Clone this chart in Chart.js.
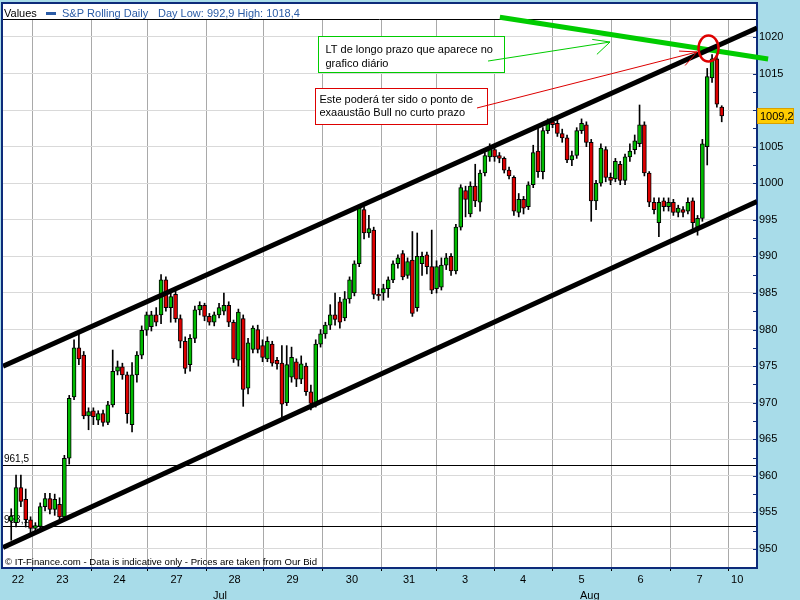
<!DOCTYPE html>
<html>
<head>
<meta charset="utf-8">
<script src="https://cdn.jsdelivr.net/npm/chart.js@4.4.0/dist/chart.umd.min.js"></script>
<style>
  html, body { margin: 0; padding: 0; background: #a8dce9; }
  #wrap { width: 800px; height: 600px; }
</style>
</head>
<body>
<div id="wrap"><canvas id="chart" width="800" height="600"></canvas></div>
<script>
// S&P rolling daily, ~2h candles. slot 0 = start of 23 Jul, one slot per candle
const firstSlot = -4.5;

const opens = [
  953.8, 953.6, 958.4, 956.8, 954.0,                                                  // 22
  952.8, 953.1, 955.8, 956.9, 955.4, 956.1, 954.4, 962.4, 970.8, 977.5, 976.5, 968.2, // 23
  968.9, 967.6, 968.5, 967.3, 969.7, 974.3, 974.9, 973.8, 967.0, 973.8, 976.5, 979.9, // 24
  980.4, 982.0, 982.0, 986.8, 983.0, 984.8, 981.5, 978.4, 975.2, 978.8, 982.7, 983.3, // 27
  981.8, 981.0, 982.0, 982.5, 983.3, 981.0, 975.8, 981.5, 972.0, 977.3, 980.0, 977.8, // 28
  976.0, 978.0, 975.8, 975.4, 970.0, 973.5, 975.6, 973.2, 975.0, 971.5, 969.9, 978.0, // 29
  979.4, 980.6, 982.0, 983.8, 981.6, 984.2, 985.0, 989.0, 996.4, 993.2, 993.6, 984.8, // 30
  985.0, 985.6, 986.8, 989.0, 990.4, 987.4, 989.5, 983.0, 989.0, 990.2, 988.6, 985.6, // 31
  985.8, 988.8, 990.0, 988.0, 994.0, 999.0, 995.8, 999.6, 997.4, 1001.4, 1003.6, 1004.6, // 3
  1003.8, 1003.4, 1001.8, 1000.8, 996.0, 997.8, 996.8, 999.8, 1004.4, 1001.6, 1007.2, 1008.4, // 4
  1008.2, 1006.8, 1006.2, 1003.2, 1003.8, 1007.2, 1008.0, 1005.6, 997.6, 1000.0, 1004.6, 1000.8, // 5
  1000.6, 1002.6, 1000.4, 1003.6, 1004.6, 1005.4, 1008.0, 1001.4, 997.4, 994.6, 997.6, 996.8, // 6
  997.4, 996.0, 996.4, 996.2, 997.6, 994.0, 995.2, 1005.0, 1014.4, 1017.0, 1010.4     // 7
];
const highs = [
  955.5, 960.1, 960.1, 958.2, 954.4,
  953.6, 956.3, 957.6, 957.6, 957.5, 957.0, 962.8, 971.0, 978.6, 979.4, 977.0, 969.3,
  969.3, 968.9, 969.0, 970.2, 977.2, 975.7, 975.4, 974.2, 975.5, 977.0, 980.5, 982.4,
  982.5, 983.0, 987.5, 987.2, 985.0, 985.3, 982.0, 979.0, 979.3, 983.2, 983.8, 983.6,
  982.2, 982.4, 983.6, 985.0, 983.8, 981.3, 982.8, 982.0, 978.8, 980.5, 980.6, 978.6,
  979.0, 978.4, 976.2, 977.8, 977.8, 977.6, 976.0, 976.4, 975.4, 972.4, 978.6, 980.0,
  981.0, 983.4, 985.0, 984.4, 985.2, 987.2, 989.4, 997.0, 996.8, 995.6, 994.0, 985.6,
  986.2, 987.2, 989.4, 990.2, 990.8, 989.8, 993.4, 993.2, 990.6, 990.6, 993.6, 989.4,
  989.8, 990.4, 990.4, 994.4, 999.8, 999.6, 1000.2, 1002.6, 1001.8, 1004.2, 1005.4, 1005.2,
  1004.2, 1003.6, 1002.2, 1001.0, 998.6, 998.2, 1000.2, 1005.2, 1007.6, 1007.6, 1008.8, 1009.0,
  1008.8, 1007.4, 1006.6, 1004.4, 1007.6, 1008.8, 1008.4, 1006.0, 1000.4, 1005.4, 1005.0, 1001.4,
  1003.4, 1003.0, 1004.0, 1005.4, 1006.6, 1010.7, 1008.4, 1001.6, 998.0, 998.0, 998.0, 998.0,
  997.8, 997.0, 996.8, 998.0, 998.0, 995.6, 1006.0, 1015.7, 1017.6, 1018.4, 1010.6
];
const lows = [
  951.2, 953.0, 955.8, 953.0, 952.2,
  952.3, 952.8, 955.2, 954.8, 954.6, 953.9, 954.2, 961.6, 970.4, 975.2, 967.8, 966.3,
  967.0, 967.0, 966.8, 967.0, 969.4, 973.8, 973.2, 967.2, 966.0, 972.8, 976.0, 979.2,
  979.8, 980.5, 980.8, 982.5, 981.0, 981.0, 977.5, 974.0, 974.3, 978.2, 982.0, 981.2,
  980.6, 980.5, 981.6, 982.0, 980.4, 975.5, 975.0, 969.5, 971.2, 976.8, 976.8, 975.6,
  975.6, 975.0, 974.6, 968.1, 969.6, 972.8, 972.2, 972.6, 971.0, 969.0, 969.4, 977.6,
  978.8, 980.0, 980.6, 980.2, 981.2, 983.6, 984.6, 988.6, 992.4, 992.6, 984.2, 984.0,
  984.0, 984.4, 986.4, 988.4, 986.8, 987.0, 981.8, 982.5, 987.4, 987.6, 984.9, 985.0,
  985.4, 988.2, 987.4, 987.6, 993.6, 995.4, 995.4, 996.8, 996.2, 1001.0, 1003.0, 1003.0,
  1002.8, 1001.4, 1000.6, 995.6, 995.4, 995.8, 996.4, 999.4, 1000.8, 1000.6, 1006.8, 1007.6,
  1006.4, 1005.6, 1002.8, 1002.4, 1003.4, 1006.8, 1005.0, 994.8, 996.4, 999.6, 1000.2, 999.8,
  1000.2, 999.8, 999.8, 1003.0, 1004.0, 1005.0, 1001.0, 996.8, 995.8, 992.7, 996.2, 996.2,
  995.6, 995.4, 995.4, 995.8, 993.8, 992.9, 994.8, 1002.5, 1013.8, 1010.4, 1008.4
];
const closes = [
  954.5, 958.4, 956.5, 954.0, 952.8,
  953.2, 955.8, 956.9, 955.4, 956.8, 954.4, 962.4, 970.6, 977.5, 976.0, 968.2, 968.8,
  968.1, 968.5, 967.3, 969.7, 974.3, 974.9, 973.8, 968.5, 973.8, 976.5, 979.9, 982.0,
  982.0, 981.0, 986.8, 983.0, 984.5, 981.5, 978.4, 974.7, 978.8, 982.7, 983.3, 981.8,
  981.0, 982.0, 983.0, 983.3, 981.0, 976.0, 982.4, 971.8, 978.2, 980.2, 977.3, 976.2,
  978.4, 975.4, 975.3, 969.8, 975.2, 976.2, 973.2, 975.3, 971.5, 969.9, 978.0, 979.4,
  980.6, 982.0, 981.4, 981.0, 984.2, 986.8, 989.0, 996.6, 993.2, 993.8, 984.8, 984.6,
  985.6, 986.8, 989.0, 989.8, 987.2, 989.3, 982.2, 990.0, 990.0, 988.6, 985.4, 988.6,
  988.8, 989.8, 988.0, 994.0, 999.4, 997.8, 999.6, 997.6, 1001.4, 1003.8, 1005.0, 1003.6,
  1003.4, 1001.8, 1001.0, 996.2, 997.8, 996.6, 999.8, 1004.2, 1001.6, 1007.2, 1008.4, 1008.0,
  1006.8, 1006.2, 1003.2, 1003.8, 1007.2, 1008.2, 1005.6, 997.6, 1000.0, 1004.8, 1000.8, 1000.4,
  1003.0, 1000.4, 1003.6, 1004.4, 1005.8, 1008.0, 1001.4, 997.4, 996.4, 997.4, 996.8, 997.4,
  996.0, 996.6, 996.0, 997.4, 994.6, 995.2, 1005.4, 1014.6, 1017.0, 1010.8, 1009.2
];

// axis
const dayStarts = [0, 12.2, 23.6, 35.8, 47.6, 59.8, 72.2, 83.4, 95.4, 107.4, 119.6, 131.8, 144];
const dayLabels = ['22', '23', '24', '27', '28', '29', '30', '31', '3', '4', '5', '6', '7', '10'];
const monthLabels = ['Jul', 'Aug'];
const monthSlots = [38.7, 115.2];
const yTicks = [950, 955, 960, 965, 970, 975, 980, 985, 990, 995, 1000, 1005, 1010, 1015, 1020];
const xMin = -6.2, xMax = 149.8;
const yMin = 947.4, yMax = 1022.32;

// header numbers and drawn lines
const dayLow = 992.9, dayHigh = 1018.4;
const levels = [961.5, 953.1];
const channelUpper = [975.0, 1021.23];
const channelLower = [950.2, 997.5];
const longTermSlots = [96.6, 152.1];
const longTermValues = [1022.7, 1017.0];

const pageBlue = '#a8dce9';
const frameBlue = '#0d2b7a';
const seriesBlue = '#2b5ca6';
const upGreen = '#00bb00';
const downRed = '#dd0000';
const FONT = '"Liberation Sans", Arial, sans-serif';

const fmt = v => v.toFixed(1).replace('.', ',');
const lastPrice = closes[closes.length - 1];

const slots = opens.map((_, i) => firstSlot + i);
const bodies = slots.map((s, i) => ({ x: s, y: [opens[i], closes[i]] }));
const wicks = slots.map((s, i) => ({ x: s, y: [lows[i], highs[i]] }));

const dayLabelSlots = dayLabels.map((_, i) => {
  if (i === 0) return (xMin + dayStarts[0]) / 2;
  if (i === dayLabels.length - 1) return dayStarts[dayStarts.length - 1] + 1.7;
  return (dayStarts[i - 1] + dayStarts[i]) / 2;
});

// call-out boxes, placed in slot / price units
const notes = [
  { x1: 59.0, x2: 97.5, top: 1020.13, bottom: 1015.21, color: '#00cc00', dx: 7, lines: ['LT de longo prazo que aparece no', 'grafico diário'], base: [16, 30],
    from: [94.15, 1016.71], to: [119.39, 1019.31] },
  { x1: 58.35, x2: 93.94, top: 1013.02, bottom: 1008.10, color: '#dd0000', dx: 4, lines: ['Este poderá ter sido o ponto de', 'exaaustão Bull no curto prazo'], base: [14.5, 27],
    from: [91.87, 1010.29], to: [137.39, 1017.95] }
];
const ringAt = [139.77, 1018.42];

function arrow(c, x1, y1, x2, y2) {
  const ang = Math.atan2(y1 - y2, x1 - x2);
  c.beginPath();
  c.moveTo(x1, y1); c.lineTo(x2, y2);
  c.moveTo(x2, y2); c.lineTo(x2 + 18 * Math.cos(ang + 0.3), y2 + 18 * Math.sin(ang + 0.3));
  c.moveTo(x2, y2); c.lineTo(x2 + 18 * Math.cos(ang - 0.6), y2 + 18 * Math.sin(ang - 0.6));
  c.stroke();
}

const decor = {
  id: 'decor',
  beforeDraw(chart) {
    const c = chart.ctx, a = chart.chartArea;
    c.save();
    c.fillStyle = pageBlue;
    c.fillRect(0, 0, chart.width, chart.height);
    c.fillStyle = '#fff';
    c.fillRect(2, 3, a.right - 2, a.bottom - 3);
    c.font = '11px ' + FONT;
    c.textBaseline = 'alphabetic';
    c.fillStyle = '#000';
    c.fillText('Values', 4, 17);
    c.fillStyle = seriesBlue;
    c.fillRect(46, 12, 10, 3);
    c.fillText('S&P Rolling Daily', 62, 17);
    c.fillText('Day Low: ' + fmt(dayLow) + ' High: ' + fmt(dayHigh), 158, 17);
    c.restore();
  },
  beforeDatasetsDraw(chart) {
    const c = chart.ctx, a = chart.chartArea, ys = chart.scales.y;
    c.save();
    c.strokeStyle = '#000';
    c.lineWidth = 1;
    c.font = '10px ' + FONT;
    c.fillStyle = '#000';
    levels.forEach(v => {
      const y = Math.round(ys.getPixelForValue(v)) + 0.5;
      c.beginPath(); c.moveTo(a.left, y); c.lineTo(a.right, y); c.stroke();
      c.fillText(fmt(v), 4, y - 3.5);
    });
    // header separator and frame
    c.beginPath(); c.moveTo(2, 19.5); c.lineTo(a.right, 19.5); c.stroke();
    c.strokeStyle = frameBlue;
    c.lineWidth = 2;
    c.strokeRect(2, 3, a.right - 2, a.bottom - 3);
    // small marks every 2.5 on the price axis
    c.lineWidth = 1;
    for (let v = 947.5; v < yMax; v += 2.5) {
      const y = Math.round(ys.getPixelForValue(v)) + 0.5;
      c.beginPath(); c.moveTo(a.right - 4, y); c.lineTo(a.right, y); c.stroke();
    }
    c.font = '9.6px ' + FONT;
    c.fillStyle = '#000';
    c.fillText('© IT-Finance.com - Data is indicative only - Prices are taken from Our Bid', 5, 565);
    c.restore();
  },
  afterDraw(chart) {
    const c = chart.ctx, xs = chart.scales.x, ys = chart.scales.y;
    c.save();
    c.font = '11px ' + FONT;
    notes.forEach(n => {
      const l = Math.round(xs.getPixelForValue(n.x1)) + 0.5, r = Math.round(xs.getPixelForValue(n.x2)) + 0.5;
      const t = Math.round(ys.getPixelForValue(n.top)) + 0.5, b = Math.round(ys.getPixelForValue(n.bottom)) + 0.5;
      c.strokeStyle = n.color;
      c.lineWidth = 1;
      c.fillStyle = '#fff';
      c.fillRect(l, t, r - l, b - t);
      c.strokeRect(l, t, r - l, b - t);
      c.fillStyle = '#000';
      n.lines.forEach((s, k) => c.fillText(s, l + n.dx, t + n.base[k]));
      // the pointer starts inside the box, after the text
      arrow(c, xs.getPixelForValue(n.from[0]), ys.getPixelForValue(n.from[1]),
               xs.getPixelForValue(n.to[0]), ys.getPixelForValue(n.to[1]));
    });
    // ring on the touch point
    c.strokeStyle = '#dd0000';
    c.lineWidth = 2.5;
    c.beginPath();
    c.ellipse(xs.getPixelForValue(ringAt[0]), ys.getPixelForValue(ringAt[1]), 10, 13, 0, 0, Math.PI * 2);
    c.stroke();
    // last price tag
    const y = Math.round(ys.getPixelForValue(lastPrice));
    c.fillStyle = '#ffcc00';
    c.fillRect(757, y - 8, 37, 16);
    c.strokeStyle = '#d9a000';
    c.lineWidth = 1;
    c.strokeRect(757.5, y - 7.5, 36, 15);
    c.fillStyle = '#000';
    c.textBaseline = 'middle';
    c.fillText(fmt(lastPrice), 760, y + 0.5);
    c.restore();
  }
};

Chart.defaults.font.family = FONT;
Chart.defaults.font.size = 11;
Chart.defaults.color = '#000';

const flatAxis = (extra) => Object.assign({
  type: 'linear', min: xMin, max: xMax, offset: false, position: 'bottom',
  border: { display: false }
}, extra);

new Chart(document.getElementById('chart'), {
  type: 'bar',
  data: {
    datasets: [
      { type: 'line', data: [{ x: xMin, y: channelUpper[0] }, { x: xMax, y: channelUpper[1] }],
        borderColor: '#000', borderWidth: 5, pointRadius: 0, order: 0 },
      { type: 'line', data: [{ x: xMin, y: channelLower[0] }, { x: xMax, y: channelLower[1] }],
        borderColor: '#000', borderWidth: 5, pointRadius: 0, order: 0 },
      { type: 'line', data: longTermSlots.map((s, i) => ({ x: s, y: longTermValues[i] })),
        borderColor: '#00cc00', borderWidth: 5, pointRadius: 0, clip: false, order: 0 },
      { data: bodies, grouped: false, barThickness: 4, borderWidth: 1, borderColor: '#000', borderSkipped: false,
        backgroundColor: ctx => closes[ctx.dataIndex] >= opens[ctx.dataIndex] ? upGreen : downRed, order: 1 },
      { data: wicks, grouped: false, barThickness: 1, borderWidth: 0, backgroundColor: '#000', order: 2 }
    ]
  },
  options: {
    responsive: false,
    animation: false,
    events: [],
    layout: { padding: { left: 3, top: 20, right: 0, bottom: 0 } },
    plugins: { legend: { display: false }, tooltip: { enabled: false } },
    scales: {
      x: flatAxis({
        weight: 0,
        grid: { color: '#a9a9a9', offset: false, drawTicks: true, tickLength: 3, tickColor: '#000' },
        ticks: { display: false },
        afterBuildTicks: s => { s.ticks = dayStarts.map(v => ({ value: v })); },
        afterFit: s => { s.height = 0; }
      }),
      xd: flatAxis({
        weight: 1,
        grid: { display: false, drawTicks: false },
        ticks: { autoSkip: false, minRotation: 0, maxRotation: 0, padding: 5, callback: (v, i) => dayLabels[i] },
        afterBuildTicks: s => { s.ticks = dayLabelSlots.map(v => ({ value: v })); },
        afterFit: s => { s.height = 20; }
      }),
      xm: flatAxis({
        weight: 2,
        grid: { display: false, drawTicks: false },
        ticks: { autoSkip: false, minRotation: 0, maxRotation: 0, padding: 1, callback: (v, i) => monthLabels[i] },
        afterBuildTicks: s => { s.ticks = monthSlots.map(v => ({ value: v })); },
        afterFit: s => { s.height = 12; }
      }),
      y: {
        type: 'linear', position: 'right', min: yMin, max: yMax,
        grid: { color: '#d9d9d9', drawTicks: false },
        border: { display: true, color: frameBlue, width: 2 },
        ticks: { padding: 2, autoSkip: false,
                 // the price tag hides the label it sits on
                 callback: v => Math.abs(v - lastPrice) < 1.5 ? '' : String(v) },
        afterBuildTicks: s => { s.ticks = yTicks.map(v => ({ value: v })); },
        afterFit: s => { s.width = 43; }
      }
    }
  },
  plugins: [decor]
});
</script>
</body>
</html>
